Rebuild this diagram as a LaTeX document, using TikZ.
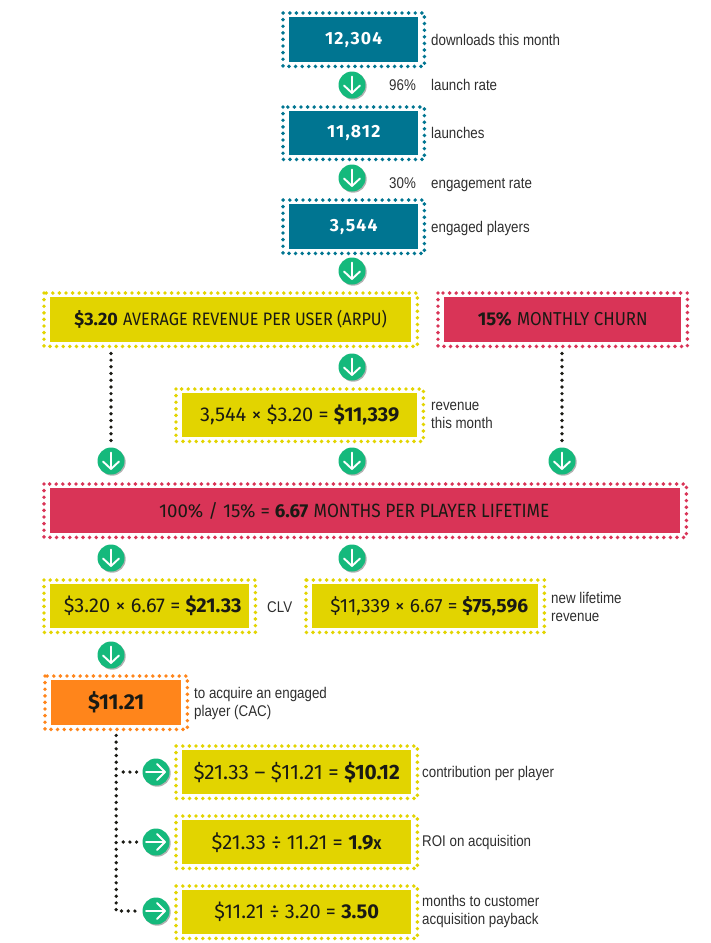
\documentclass[tikz,border=0pt]{standalone}
\usepackage{fontspec}
\setmainfont{Fira Sans}
\newfontfamily\lblfont[FakeStretch=0.86]{Liberation Sans}
\newfontfamily\upfont[FakeStretch=0.9]{Fira Sans}
\usetikzlibrary{shadows,calc}
\definecolor{teal1}{HTML}{007591}
\definecolor{yel1}{HTML}{E2D400}
\definecolor{red1}{HTML}{D93457}
\definecolor{org1}{HTML}{FF851B}
\definecolor{grn1}{HTML}{15B97C}
\definecolor{ink}{HTML}{1A1A14}
\definecolor{lbl}{HTML}{2E2E2E}
\newcommand{\fs}[1]{\fontsize{#1}{#1}\selectfont}
\tikzset{
  x=1pt,y=-1pt,
  fbox/.style={anchor=north west,inner sep=0pt,align=center,text=ink,font=\fs{20}},
  lab/.style={anchor=base west,inner sep=0pt,text=lbl,font=\lblfont\fontsize{15.5}{18}\selectfont},
  labm/.style={anchor=west,inner sep=0pt,align=left,text=lbl,font=\lblfont\fontsize{15.5}{18}\selectfont},
  badge/.style={circle,inner sep=0pt,minimum size=27pt,fill=grn1,drop shadow={shadow xshift=1.2pt,shadow yshift=-1.2pt,fill=black,opacity=0.3}},
  wline/.style={draw=white,line width=1.9pt,line cap=round,line join=round},
  conn/.style={draw=ink,line width=3.7pt,line cap=round,dash pattern=on 0pt off 6.7pt},
  ring/.style={line width=3.9pt,line cap=round,dash pattern=on 0pt off 6.6pt}
}
% \fb{name}{x0}{y0}{x1}{y1}{colour}{text}
\newcommand{\fb}[7]{%
  \node[fbox,fill=#6,minimum width={#4pt-#2pt},minimum height={#5pt-#3pt}] (#1) at (#2,#3) {#7};
  \draw[ring,draw=#6] ($(#1.north west)+(-6,-4)$) rectangle ($(#1.south east)+(6,4)$);
}
\newcommand{\dn}[3]{%
  \node[badge] (#1) at (#2,#3) {};
  \draw[wline] ($(#1)+(0,-8.5)$) -- ($(#1)+(0,8)$);
  \draw[wline] ($(#1)+(-8,0.5)$) -- ($(#1)+(0,8)$) -- ($(#1)+(8,0.5)$);
}
\newcommand{\rt}[3]{%
  \node[badge] (#1) at (#2,#3) {};
  \draw[wline] ($(#1)+(-10,0)$) -- ($(#1)+(9,0)$);
  \draw[wline] ($(#1)+(1,-8)$) -- ($(#1)+(9,0)$) -- ($(#1)+(1,8)$);
}
\newcommand{\tl}[1]{\textcolor{white}{\fs{17.6}\addfontfeature{LetterSpace=7}\bfseries #1}}
\begin{document}
\begin{tikzpicture}
\useasboundingbox (0,0) rectangle (710,943);
% teal boxes
\fb{b1}{289}{17}{418}{62}{teal1}{\tl{12,304}}
\fb{b2}{289}{111}{418}{155}{teal1}{\tl{11,812}}
\fb{b3}{289}{204}{418}{249}{teal1}{\tl{3,544}}
% metrics
\fb{arpu}{50}{297}{411}{342}{yel1}{{\fs{18}\textbf{\$3.20}} {\upfont\fs{18}AVERAGE REVENUE PER USER (ARPU)}}
\fb{churn}{444}{297}{681}{342}{red1}{{\fs{18.5}\textbf{15\%}} {\upfont\fs{18.7}MONTHLY CHURN}}
\fb{rev}{182}{393}{417}{437}{yel1}{3,544 × \$3.20 = \textbf{\$11,339}}
\fb{life}{50}{488}{680}{533}{red1}{{\fs{18.7}100\% / 15\% = \textbf{6.67}} {\upfont\fs{19.2}MONTHS PER PLAYER LIFETIME}\hspace{22pt}}
\fb{clv}{50}{584}{249}{628}{yel1}{\hspace{6pt}\$3.20 × 6.67 = \textbf{\$21.33}}
\fb{nlr}{312}{584}{538}{628}{yel1}{\hspace{8pt}\fs{19.2}\$11,339 × 6.67 = \textbf{\$75,596}}
\fb{cac}{51}{680}{181}{725}{org1}{\fs{21.5}\textbf{\$11.21}}
\fb{c1}{182}{750}{411}{794}{yel1}{\fs{20.8}\$21.33 – \$11.21 = \textbf{\$10.12}}
\fb{c2}{182}{820}{411}{864}{yel1}{\fs{20.3}\$21.33 ÷ 11.21 = \textbf{1.9}{\fs{14}\textbf{X}}}
\fb{c3}{182}{890}{411}{934}{yel1}{\$11.21 ÷ 3.20 = \textbf{3.50}}
% badges
\dn{a1}{352}{85}
\dn{a2}{352}{178}
\dn{a3}{352}{271}
\dn{a4}{352}{367}
\dn{a5}{111}{461}
\dn{a6}{352}{461}
\dn{a7}{562}{461}
\dn{a8}{111}{558}
\dn{a9}{352}{558}
\dn{a10}{111}{655}
\rt{r1}{156}{772}
\rt{r2}{156}{842}
\rt{r3}{156}{911}
% dotted connectors
\draw[conn,shorten <=11pt,shorten >=4pt] (arpu.south -| a5) -- (a5);
\draw[conn,shorten <=11pt,shorten >=4pt] (churn.south -| a7) -- (a7);
\coordinate (j1) at (cac.south |- r1);
\coordinate (j2) at (cac.south |- r2);
\draw[conn,shorten <=10pt,shorten >=3pt] (cac.south) |- (r3);
\draw[conn,shorten <=7pt,shorten >=3pt] (j1) -- (r1);
\draw[conn,shorten <=7pt,shorten >=3pt] (j2) -- (r2);
% labels
\node[lab] (l1) at (431,45) {downloads this month};
\node[lab] (l2) at (389,90) {96\%};
\node[lab] (l3) at (431,90) {launch rate};
\node[lab] (l4) at (431,138) {launches};
\node[lab] (l5) at (389,188) {30\%};
\node[lab] (l6) at (431,188) {engagement rate};
\node[lab] (l7) at (431,232) {engaged players};
\node[labm] (l8) at (431,415) {revenue\\this month};
\node[lab] (l9) at (267,612) {CLV};
\node[labm] (l10) at (551,607) {new lifetime\\revenue};
\node[labm] (l11) at (194,703.5) {to acquire an engaged\\player (CAC)};
\node[lab] (l12) at (422,777) {contribution per player};
\node[lab] (l13) at (422,846) {ROI on acquisition};
\node[labm] (l14) at (422,911) {months to customer\\acquisition payback};
\end{tikzpicture}
\end{document}
